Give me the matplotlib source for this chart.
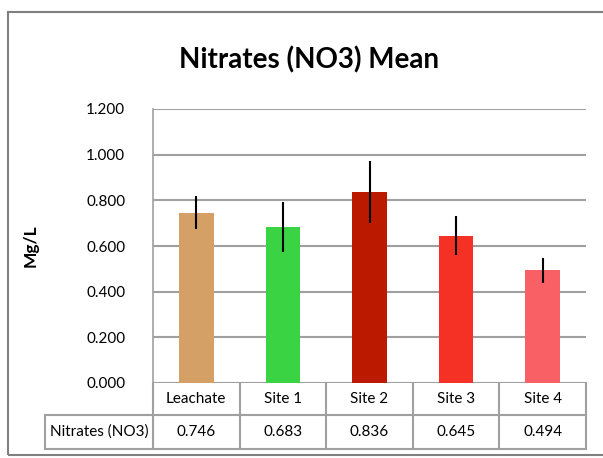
import matplotlib.pyplot as plt
from matplotlib.patches import Rectangle
from matplotlib.lines import Line2D
import numpy as np

plt.rcParams['font.family'] = ['Lato', 'DejaVu Sans']

categories = ['Leachate', 'Site 1', 'Site 2', 'Site 3', 'Site 4']
means = [0.746, 0.683, 0.836, 0.645, 0.494]
errors = [0.073, 0.110, 0.135, 0.085, 0.055]
colors = ['#D4A066', '#3AD344', '#BB1A00', '#F53125', '#F86065']
row_label = 'Nitrates (NO3)'

W, H = 603, 458
fig = plt.figure(figsize=(W / 100, H / 100), dpi=100)
ax = fig.add_axes([153 / W, (H - 383) / H, 433 / W, 274 / H])

x = np.arange(len(categories))
ax.bar(x, means, width=0.4, color=colors, zorder=3)
ax.errorbar(x, means, yerr=errors, fmt='none', ecolor='black', elinewidth=1.5, capsize=0, zorder=4)

ax.set_xlim(-0.5, len(categories) - 0.5)
ax.set_ylim(0, 1.2)
ax.set_yticks(np.arange(0, 1.21, 0.2))
ax.set_yticklabels([f'{v:.3f}' for v in np.arange(0, 1.21, 0.2)], fontsize=11)
ax.set_xticks([])
ax.tick_params(axis='y', length=0, pad=20)
ax.grid(axis='y', color='#A0A0A0', lw=1.5, zorder=0)
for s in ['top', 'right', 'bottom']:
    ax.spines[s].set_visible(False)
ax.spines['left'].set_color('#A0A0A0')
ax.spines['left'].set_linewidth(1.2)

ax.set_ylabel('Mg/L', fontsize=12.5, fontweight='bold', labelpad=34)
fig.text(309 / W, 1 - 60 / H, 'Nitrates (NO3) Mean', fontsize=20, fontweight='bold',
         ha='center', va='center')

# data table under the axis
n = len(categories)
y_mid = -(415 - 383) / 274
y_bot = -(449 - 383) / 274
x_left = (45 - 153) / 433
tc = '#A0A0A0'
def line(xs, ys):
    ax.add_line(Line2D(xs, ys, transform=ax.transAxes, color=tc, lw=1.5, clip_on=False))
line([x_left, 1], [y_mid, y_mid])
line([x_left, 1], [y_bot, y_bot])
line([x_left, x_left], [y_mid, y_bot])
for i in range(n + 1):
    line([i / n, i / n], [0, y_bot])
for i, (c, v) in enumerate(zip(categories, means)):
    xc = (i + 0.5) / n
    ax.text(xc, y_mid / 2, c, transform=ax.transAxes, ha='center', va='center', fontsize=11)
    ax.text(xc, (y_mid + y_bot) / 2, f'{v:.3f}', transform=ax.transAxes, ha='center', va='center', fontsize=11)
ax.text(x_left / 2, (y_mid + y_bot) / 2, row_label, transform=ax.transAxes, ha='center', va='center', fontsize=11)

# chart frame (right edge runs off the image)
fig.add_artist(Rectangle((8 / W, 3 / H), 1.5, 1 - 15 / H, transform=fig.transFigure,
                         fill=False, edgecolor='#808080', lw=1.5))

fig.savefig('out.png', dpi=100)
